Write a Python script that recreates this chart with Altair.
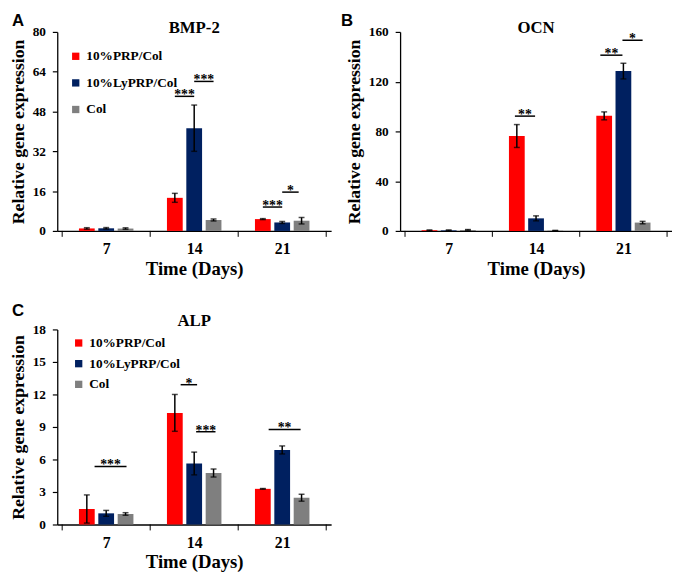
import altair as alt
import pandas as pd

days = ["7", "14", "21"]
groups = ["10%PRP/Col", "10%LyPRP/Col", "Col"]
colors = ["#FF0000", "#002060", "#7F7F7F"]

# Panel A: BMP-2
bmp_prp = [1.0, 13.3, 4.75]
bmp_prp_err = [0.3, 1.8, 0.2]
bmp_ly = [1.05, 41.3, 3.4]
bmp_ly_err = [0.3, 9.3, 0.4]
bmp_col = [0.95, 4.4, 4.1]
bmp_col_err = [0.3, 0.4, 1.3]
bmp_sig_day = [1, 1, 2, 2]
bmp_sig_from = [-1, 0, -1, 0]
bmp_sig_to = [0, 1, 0, 0.85]
bmp_sig_y = [54.1, 60.1, 9.6, 15.6]
bmp_sig_text = ["***", "***", "***", "*"]

# Panel B: OCN
ocn_prp = [0.5, 76.3, 92.5]
ocn_prp_err = [0.3, 9.2, 3.2]
ocn_ly = [0.5, 10.1, 128.5]
ocn_ly_err = [0.3, 2.0, 6.3]
ocn_col = [0.8, 0.3, 6.7]
ocn_col_err = [0.3, 0.1, 1.0]
ocn_sig_day = [1, 2, 2]
ocn_sig_from = [-1.1, -1.2, -0.05]
ocn_sig_to = [-0.05, -0.05, 1.0]
ocn_sig_y = [92.3, 141.3, 153.3]
ocn_sig_text = ["**", "**", "*"]

# Panel C: ALP
alp_prp = [1.43, 10.3, 3.29]
alp_prp_err = [1.3, 1.7, 0.03]
alp_ly = [1.03, 5.63, 6.88]
alp_ly_err = [0.27, 1.05, 0.37]
alp_col = [0.97, 4.75, 2.47]
alp_col_err = [0.12, 0.37, 0.32]
alp_sig_day = [0, 1, 1, 2]
alp_sig_from = [-0.6, -0.7, 0.1, -0.7]
alp_sig_to = [1.05, 0.15, 1.1, 0.95]
alp_sig_y = [5.36, 12.9, 8.56, 8.77]
alp_sig_text = ["***", "*", "***", "**"]

SLOT = 0.22
FONT = "Liberation Serif"
XTITLE = "Time (Days)"
YTITLE = "Relative gene expression"


def panel(letter, title, ymax, ystep, vals, errs, sig, W, H,
          legend_x, legend_y, row_pad, letter_dx, letter_dy, title_dy):
    rows = []
    for i, d in enumerate(days):
        for j, g in enumerate(groups):
            v = vals[j][i]
            e = errs[j][i]
            rows.append(dict(day=d, group=g, order=j, pos=i + 0.5 + (j - 1) * SLOT,
                             value=v, lo=v - e, hi=v + e))
    df = pd.DataFrame(rows)
    sday, sfrom, sto, sy, stext = sig
    srows = []
    for k in range(len(sday)):
        x1 = sday[k] + 0.5 + sfrom[k] * SLOT
        x2 = sday[k] + 0.5 + sto[k] * SLOT
        srows.append(dict(x1=x1, x2=x2, xm=(x1 + x2) / 2, y=sy[k], label=stext[k]))
    sdf = pd.DataFrame(srows)

    xscale = alt.Scale(domain=[0, 3], nice=False, zero=False)
    xaxis = alt.Axis(values=[0.5, 1.5, 2.5],
                     labelExpr="['" + "','".join(days) + "'][floor(datum.value)]",
                     ticks=False, grid=False, labelPadding=10, titlePadding=3,
                     labelFontSize=16, titleFontSize=19, labelAngle=0)
    yscale = alt.Scale(domain=[0, ymax], nice=False, zero=True)
    yaxis = alt.Axis(values=list(range(0, ymax + 1, ystep)), grid=False,
                     tickSize=5, labelPadding=7, titlePadding=5)

    def X(f):
        return alt.X(f, scale=xscale, axis=xaxis, title=XTITLE)

    def Y(f):
        return alt.Y(f, scale=yscale, axis=yaxis, title=YTITLE)

    base = alt.Chart(df)
    bars = base.mark_bar(size=16).encode(
        x=X("pos:Q"), y=Y("value:Q"),
        color=alt.Color("group:N", scale=alt.Scale(domain=groups, range=colors),
                        legend=alt.Legend(orient="none", legendX=legend_x, legendY=legend_y,
                                          title=None, symbolType="square", symbolSize=55,
                                          symbolStrokeWidth=0, labelFont=FONT,
                                          labelFontWeight="bold", labelFontSize=13.5,
                                          labelColor="black", rowPadding=row_pad,
                                          labelOffset=4, padding=0, direction="vertical")),
    )
    err = base.mark_rule(color="black", strokeWidth=1.5).encode(x=X("pos:Q"), y=Y("lo:Q"), y2="hi:Q")
    cap_hi = base.mark_tick(color="black", orient="horizontal", size=6, thickness=1.5).encode(
        x=X("pos:Q"), y=Y("hi:Q"))
    cap_lo = base.mark_tick(color="black", orient="horizontal", size=6, thickness=1.5).encode(
        x=X("pos:Q"), y=Y("lo:Q"))
    sig_lines = alt.Chart(sdf).mark_rule(color="black", strokeWidth=1.5).encode(
        x=X("x1:Q"), x2="x2:Q", y=Y("y:Q"))
    sig_text = alt.Chart(sdf).mark_text(font=FONT, fontWeight="bold", fontSize=14,
                                        baseline="alphabetic", dy=3, color="black").encode(
        x=X("xm:Q"), y=Y("y:Q"), text="label:N")
    bdf = pd.DataFrame({"b": [0, 1, 2, 3]})
    bticks = alt.Chart(bdf).mark_rule(color="black", strokeWidth=1).encode(
        x=X("b:Q"), y=alt.value(H), y2=alt.value(H + 6))
    tdf = pd.DataFrame({"t": [title]})
    ttl = alt.Chart(tdf).mark_text(font=FONT, fontWeight="bold", fontSize=17,
                                   baseline="middle", align="center", color="black").encode(
        text="t:N", x=alt.value(W / 2), y=alt.value(title_dy))
    ldf = pd.DataFrame({"t": [letter]})
    let = alt.Chart(ldf).mark_text(font="Liberation Sans", fontWeight="bold", fontSize=17,
                                   baseline="middle", align="left", color="black").encode(
        text="t:N", x=alt.value(letter_dx), y=alt.value(letter_dy))
    return alt.layer(bars, err, cap_hi, cap_lo, sig_lines, sig_text, bticks, ttl, let).properties(
        width=W, height=H)


A = panel("A", "BMP-2", 80, 16,
          [bmp_prp, bmp_ly, bmp_col], [bmp_prp_err, bmp_ly_err, bmp_col_err],
          (bmp_sig_day, bmp_sig_from, bmp_sig_to, bmp_sig_y, bmp_sig_text),
          278, 202, 12, 18, 12, -46, -11, -4)
B = panel("B", "OCN", 160, 40,
          [ocn_prp, ocn_ly, ocn_col], [ocn_prp_err, ocn_ly_err, ocn_col_err],
          (ocn_sig_day, ocn_sig_from, ocn_sig_to, ocn_sig_y, ocn_sig_text),
          276, 202, 11, 15, 9, -60, -11, -4)
C = panel("C", "ALP", 18, 3,
          [alp_prp, alp_ly, alp_col], [alp_prp_err, alp_ly_err, alp_col_err],
          (alp_sig_day, alp_sig_from, alp_sig_to, alp_sig_y, alp_sig_text),
          278, 198, 15, 7, 6, -46, -19, -8)

chart = alt.vconcat(alt.hconcat(A, B, spacing=10), C, spacing=24).resolve_scale(
    color="independent").resolve_legend(color="independent").properties(
    padding={"left": 1, "top": 0, "right": 0, "bottom": 0}
).configure_view(stroke=None).configure_axis(
    labelFont=FONT, labelFontWeight="bold", labelFontSize=13.5, labelColor="black",
    titleFont=FONT, titleFontWeight="bold", titleFontSize=18, titleColor="black",
    domainColor="black", domainWidth=1.3, tickColor="black", tickWidth=1.2
)

chart.save("out.html", embed_options={"renderer": "svg", "actions": False})
